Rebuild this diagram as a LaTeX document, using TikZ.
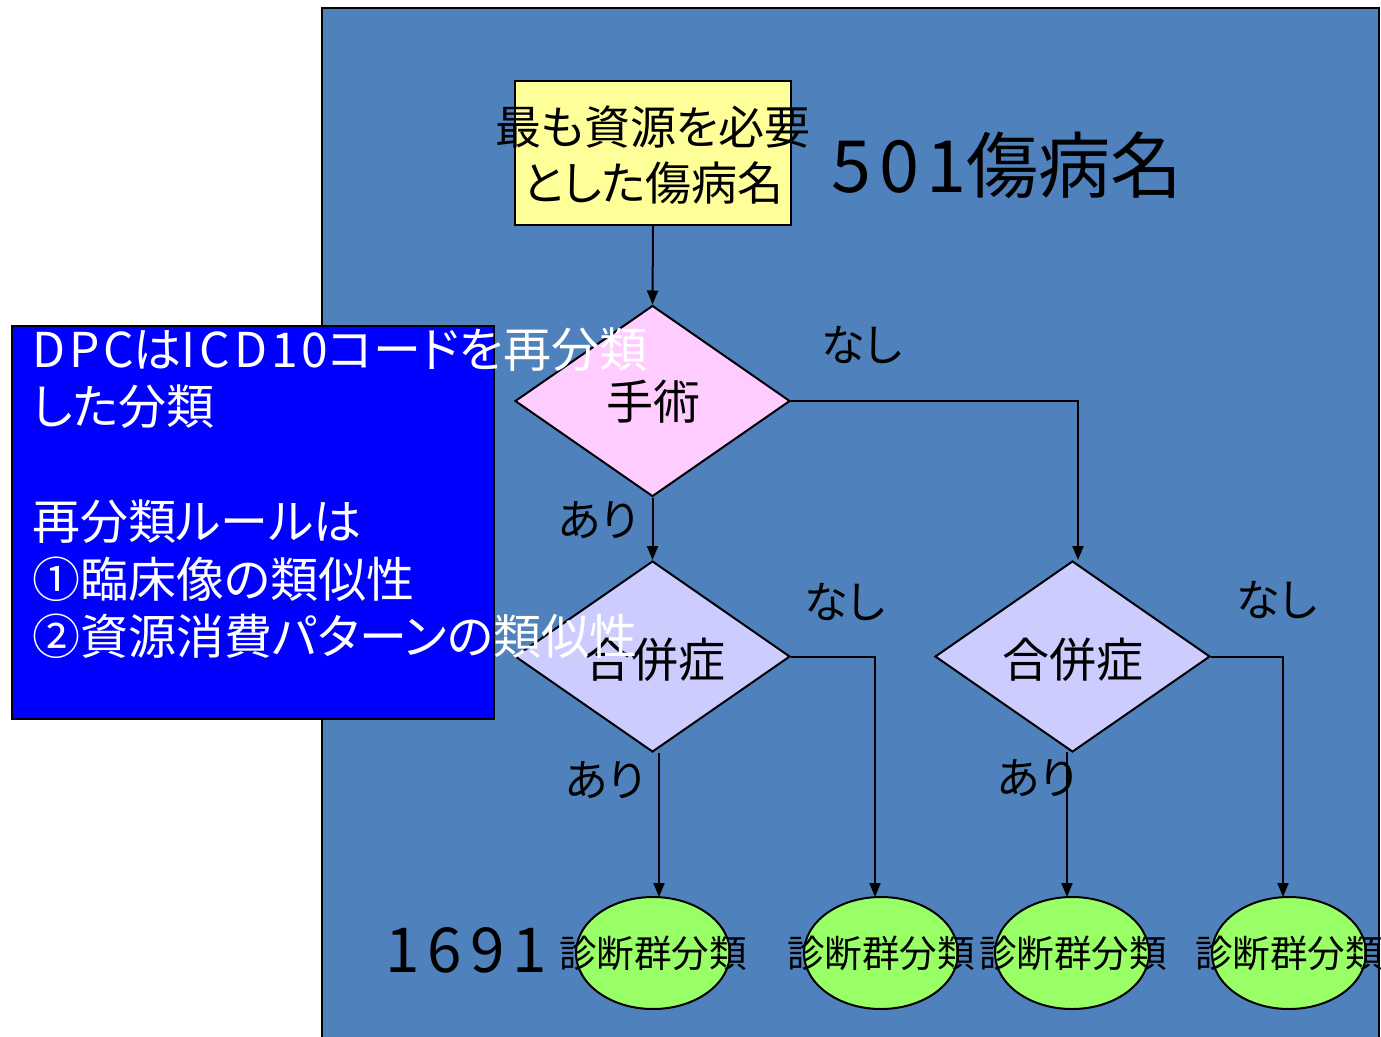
\documentclass[tikz,border=0pt]{standalone}
\usepackage{fontspec}
\setmainfont{Noto Sans CJK JP}[RawFeature={+palt}]
\usetikzlibrary{shapes.geometric,arrows.meta}
\definecolor{panelblue}{HTML}{4F81BD}
\definecolor{boxyellow}{HTML}{FFFF99}
\definecolor{dpink}{HTML}{FFCCFF}
\definecolor{dlav}{HTML}{CCCCFF}
\definecolor{egreen}{HTML}{99FF66}
\definecolor{notebl}{HTML}{0000FF}
\newcommand{\widelat}[1]{{\addfontfeature{LetterSpace=8}#1}}
\begin{document}
\begin{tikzpicture}[x=1pt,y=-1pt,
  line/.style={draw=black,line width=2pt},
  arr/.style={line,-{Triangle[length=14pt,width=11pt]}},
  dia/.style={diamond,draw=black,line width=2pt,inner sep=0pt,minimum width=275pt,minimum height=191pt},
  leaf/.style={ellipse,draw=black,line width=2pt,fill=egreen,inner sep=0pt,minimum width=154pt,minimum height=112pt},
  lbl/.style={font=\fontsize{44}{52}\selectfont,text=black,inner sep=0pt},
  kanji/.style={font=\fontsize{47}{52}\selectfont,text=black,inner sep=0pt},
  leaftxt/.style={font=\fontsize{37.5}{42}\selectfont,text=black,inner sep=0pt},
  note/.style={font=\fontsize{48}{57}\selectfont,text=white,inner sep=0pt,anchor=base west}]
\useasboundingbox (0,0) rectangle (1381,1036);
\fill[white] (0,0) rectangle (1381,1036);
\draw[line,fill=panelblue] (322,8) rectangle (1379,1060);
% source box
\node[draw=black,line width=2pt,fill=boxyellow,minimum width=276pt,minimum height=144pt,inner sep=0pt] (src) at (653,153) {};
\node[align=center,inner sep=0pt,font=\fontsize{46}{56}\selectfont] (srct) at (653,155) {最も資源を必要\\とした傷病名};
\node[font=\fontsize{72}{80}\selectfont,inner sep=0pt] (n501) at (1007,165) {{\addfontfeature{LetterSpace=10}501}傷病名};
% diamonds
\node[dia,fill=dpink] (d1) at (652.5,401) {};
\node[kanji] (d1t) at (653,402) {手術};
\node[dia,fill=dlav] (d2) at (652.5,656.5) {};
\node[kanji] (d2t) at (655,660) {合併症};
\node[dia,fill=dlav] (d3) at (1072.5,656.5) {};
\node[kanji] (d3t) at (1073,660) {合併症};
% leaves
\node[leaf] (e1) at (653,953) {};
\node[leaf] (e2) at (881,953) {};
\node[leaf] (e3) at (1072,953) {};
\node[leaf] (e4) at (1289,953) {};
\node[leaftxt] (e1t) at (653,953) {診断群分類};
\node[leaftxt] (e2t) at (881,953) {診断群分類};
\node[leaftxt] (e3t) at (1073,953) {診断群分類};
\node[leaftxt] (e4t) at (1289,953) {診断群分類};
\node[font=\fontsize{62}{70}\selectfont,inner sep=0pt] (n1691) at (466,950) {\addfontfeature{LetterSpace=13}1691};
% coordinates
\coordinate (c1) at (1078,560);
\coordinate (c2) at (875,897);
\coordinate (c3) at (1283,897);
\coordinate (s2) at (659,753);
\coordinate (t2) at (659,897);
\coordinate (s3) at (1067,752);
\coordinate (t3) at (1067,897);
% connectors
\draw[arr] (src.south) -- (d1.north);
\draw[arr] (d1.south) -- (d2.north);
\draw[arr] (d1.east) -| (c1);
\draw[arr] (d2.east) -| (c2);
\draw[arr] (d3.east) -| (c3);
\draw[arr] (s2) -- (t2);
\draw[arr] (s3) -- (t3);
% labels
\node[lbl] (nash1) at (862,345) {なし};
\node[lbl] (nash2) at (845,602) {なし};
\node[lbl] (nash3) at (1277,600) {なし};
\node[lbl] (ari1) at (598,520) {あり};
\node[lbl] (ari2) at (605,780) {あり};
\node[lbl] (ari3) at (1037,778) {あり};
% note box
\node[draw=black,line width=2pt,fill=notebl,minimum width=482pt,minimum height=393pt,inner sep=0pt,anchor=north west] (nb) at (11,325) {};
\node[note] (l1) at (32,367) {\widelat{DPC}は\widelat{ICD10}コードを再分類};
\node[note] (l2) at (32,424) {した分類};
\node[note] (l3) at (32,539) {再分類ルールは};
\node[note] (l4) at (32,597) {①臨床像の類似性};
\node[note] (l5) at (32,654) {②資源消費パターンの類似性};
\end{tikzpicture}
\end{document}
